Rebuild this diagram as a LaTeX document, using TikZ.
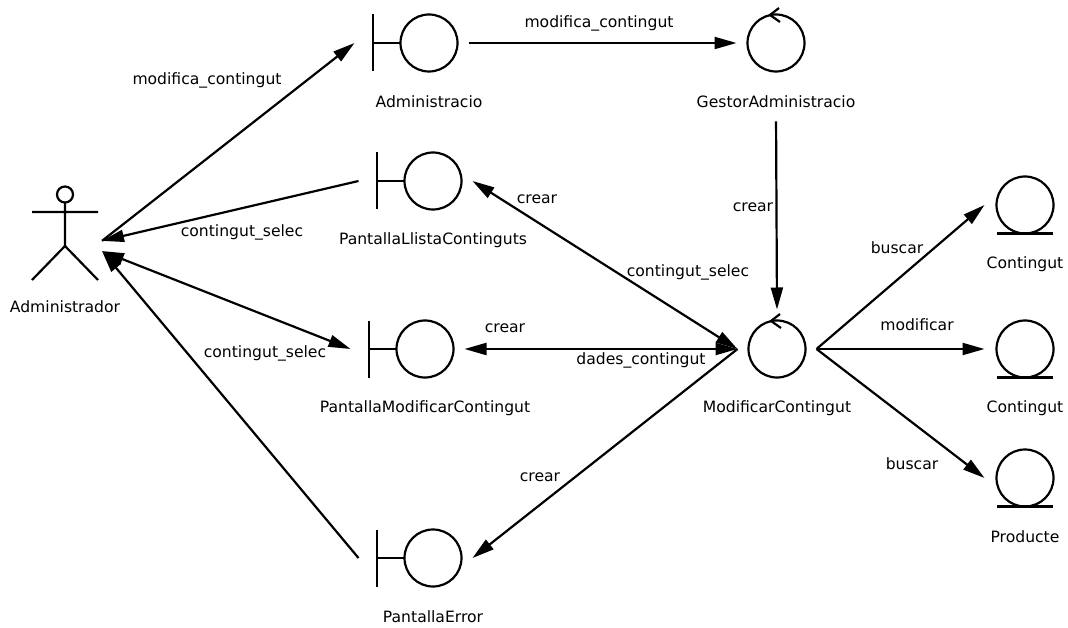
\documentclass[tikz,border=0pt]{standalone}
\usepackage{fontspec}
\setmainfont{DejaVu Sans}
\usetikzlibrary{arrows.meta}

\begin{document}
\begin{tikzpicture}[x=1pt, y=-1pt, line width=2.2pt,
  font=\fontsize{15.6}{18}\selectfont,
  >={Triangle[length=22pt,width=12pt]},
  ball/.style={circle, draw, minimum size=57pt, inner sep=0pt, outer sep=11pt},
  bar/.style={inner sep=0pt, minimum height=57pt, outer sep=18pt}]
\useasboundingbox (0,0) rectangle (1068,628);

%% actor
\node[inner sep=0pt, minimum width=66pt, minimum height=94pt, outer sep=4pt] (Administrador) at (65,233) {};
\draw (65,194.5) circle[radius=8];
\draw (32,212) -- (98,212) (65,202.5) -- (65,246) (32,280) -- (65,246) -- (98,280);
\node (Administrador-lbl) at (65,307) {Administrador};

%% boundaries (bar + circle)
\foreach \n/\cx/\cy in {Administracio/429/43, PantallaLlistaContinguts/433/181,
                        PantallaModificarContingut/425/349, PantallaError/433/558}
  {
  \node[ball] (\n) at (\cx,\cy) {};
  \node[bar] (\n-bar) at (\cx-56,\cy) {};
  \draw (\cx-56,\cy-28.5) -- (\cx-56,\cy+28.5) (\cx-56,\cy) -- (\cx-28.5,\cy);
  \node (\n-lbl) at (\cx,\cy+59) {\n};
  }

%% controls (circle with small arrow on top)
\foreach \n/\cx/\cy in {GestorAdministracio/776/43, ModificarContingut/777/349}
  {
  \node[ball] (\n) at (\cx,\cy) {};
  \draw (\cx+3,\cy-35) -- (\cx-6,\cy-28) -- (\cx+4,\cy-21);
  \node (\n-lbl) at (\cx,\cy+59) {\n};
  }

%% entities (circle on a line)
\foreach \n/\txt/\cy in {Contingut1/Contingut/205, Contingut2/Contingut/349, Producte/Producte/478}
  {
  \node[ball, outer sep=12pt] (\n) at (1025,\cy) {};
  \draw (997,\cy+28.5) -- (1053,\cy+28.5);
  \node (\n-lbl) at (1025,\cy+59) {\txt};
  }

%% messages
\draw[->] (Administrador.-12) -- (Administracio-bar.west);
\draw[->] (PantallaLlistaContinguts-bar.west) -- (Administrador.-12);
\draw[<->] (Administrador.-26) -- (PantallaModificarContingut-bar.west);
\draw[->] (PantallaError-bar.west) -- (Administrador.-26);
\draw[->] (Administracio.east) -- (GestorAdministracio.west);
\draw[->, shorten <=9pt] (GestorAdministracio-lbl.south) -- (ModificarContingut.north);
\draw[<->] (ModificarContingut.west) -- (PantallaLlistaContinguts.east);
\draw[<->] (ModificarContingut.west) -- (PantallaModificarContingut.east);
\draw[->] (ModificarContingut.west) -- (PantallaError.east);
\foreach \e in {Contingut1, Contingut2, Producte}
  \draw[->] (ModificarContingut.east) -- (\e.west);

% message labels
\node (m1) at (207,80) {modifica\_contingut};
\node (m2) at (599,23) {modifica\_contingut};
\node (m3) at (242,232) {contingut\_selec};
\node (m4) at (265,353) {contingut\_selec};
\node (m5) at (753,207) {crear};
\node (m6) at (537,199) {crear};
\node (m7) at (688,272) {contingut\_selec};
\node (m8) at (505,328) {crear};
\node (m9) at (641,360) {dades\_contingut};
\node (m10) at (540,477) {crear};
\node (m11) at (897,248) {buscar};
\node (m12) at (917,325) {modificar};
\node (m13) at (912,464) {buscar};

\end{tikzpicture}
\end{document}
